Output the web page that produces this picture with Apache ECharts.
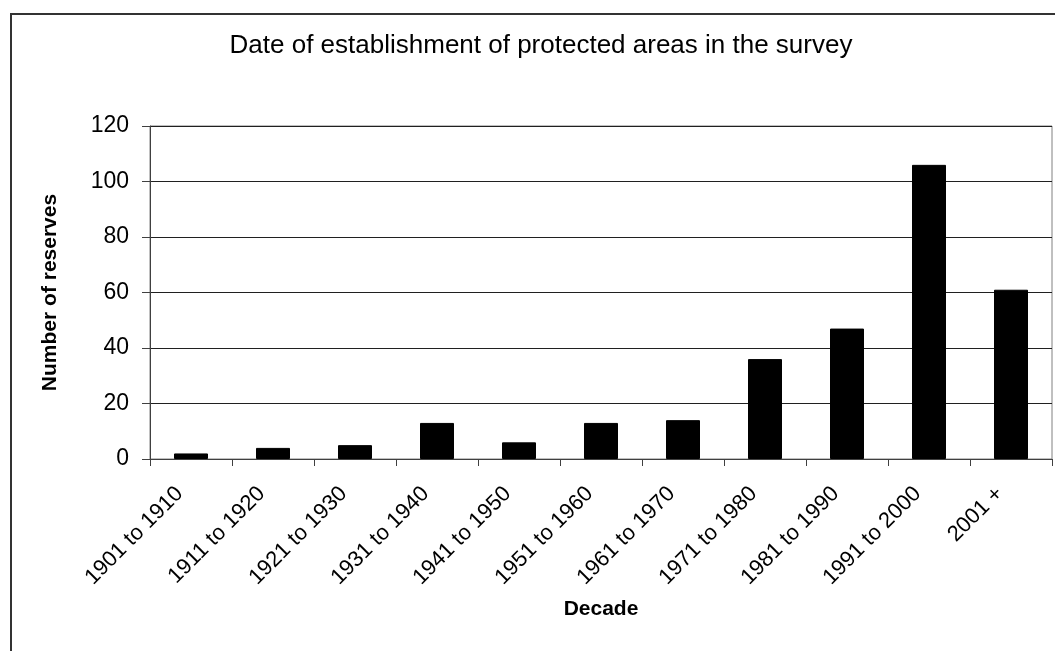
<!DOCTYPE html>
<html>
<head>
<meta charset="utf-8">
<title>Date of establishment of protected areas</title>
<script src="https://cdn.jsdelivr.net/npm/echarts@6/dist/echarts.min.js"></script>
<style>
    html, body { margin: 0; padding: 0; background: #fff; }
    #frame { position: absolute; left: 10px; top: 13px; width: 1100px; height: 700px; border-left: 2px solid #333; border-top: 2px solid #333; box-sizing: border-box; }
    #main { position: absolute; left: 0; top: 0; width: 1055px; height: 651px; }
</style>
</head>
<body>
<div id="frame"></div>
<div id="main"></div>
<script>
// decades and number of reserves
var decades = ['1901 to 1910', '1911 to 1920', '1921 to 1930', '1931 to 1940', '1941 to 1950',
    '1951 to 1960', '1961 to 1970', '1971 to 1980', '1981 to 1990', '1991 to 2000', '2001 +'];
var reserves = [2, 4, 5, 13, 6, 13, 14, 36, 47, 106, 61];
var yTicks = [0, 20, 40, 60, 80, 100, 120];

var font = 'Liberation Sans, Arial, sans-serif';
var myChart = echarts.init(document.getElementById('main'));
var option = {
    animation: false,
    title: {
        text: 'Date of establishment of protected areas in the survey',
        left: 536,
        textAlign: 'center',
        top: 28,
        textStyle: { fontFamily: font, fontSize: 26, fontWeight: 'normal', color: '#000' }
    },
    grid: {
        left: 150, right: 3, top: 126, bottom: 192,
        show: true, borderColor: '#808080', borderWidth: 1,
        containLabel: false
    },
    xAxis: {
        type: 'category',
        data: decades,
        name: 'Decade',
        nameLocation: 'middle',
        nameGap: 140,
        nameTextStyle: { fontFamily: font, fontSize: 21, fontWeight: 'bold', color: '#000' },
        axisLine: { lineStyle: { color: '#404040', width: 1 } },
        axisTick: { show: true, length: 7, lineStyle: { color: '#404040' } },
        axisLabel: {
            rotate: 45, margin: 20, interval: 0, padding: [0, 16, 0, 0],
            fontFamily: font, fontSize: 22, color: '#000'
        },
        splitLine: { show: false }
    },
    yAxis: {
        type: 'value',
        min: yTicks[0],
        max: yTicks[yTicks.length - 1],
        interval: 20,
        name: 'Number of reserves',
        nameLocation: 'middle',
        nameGap: 89,
        nameTextStyle: { fontFamily: font, fontSize: 21, fontWeight: 'bold', color: '#000' },
        axisLine: { show: true, lineStyle: { color: '#404040', width: 1 } },
        axisTick: { show: true, length: 8, lineStyle: { color: '#404040' } },
        axisLabel: { margin: 21, fontFamily: font, fontSize: 23, color: '#000' },
        splitLine: { show: true, lineStyle: { color: '#202020', width: 1 } }
    },
    series: [{
        name: 'Number of reserves',
        type: 'bar',
        data: reserves,
        barWidth: 34,
        itemStyle: { color: '#000', borderColor: '#000', borderWidth: 1 }
    }]
};
myChart.setOption(option);
</script>
</body>
</html>
